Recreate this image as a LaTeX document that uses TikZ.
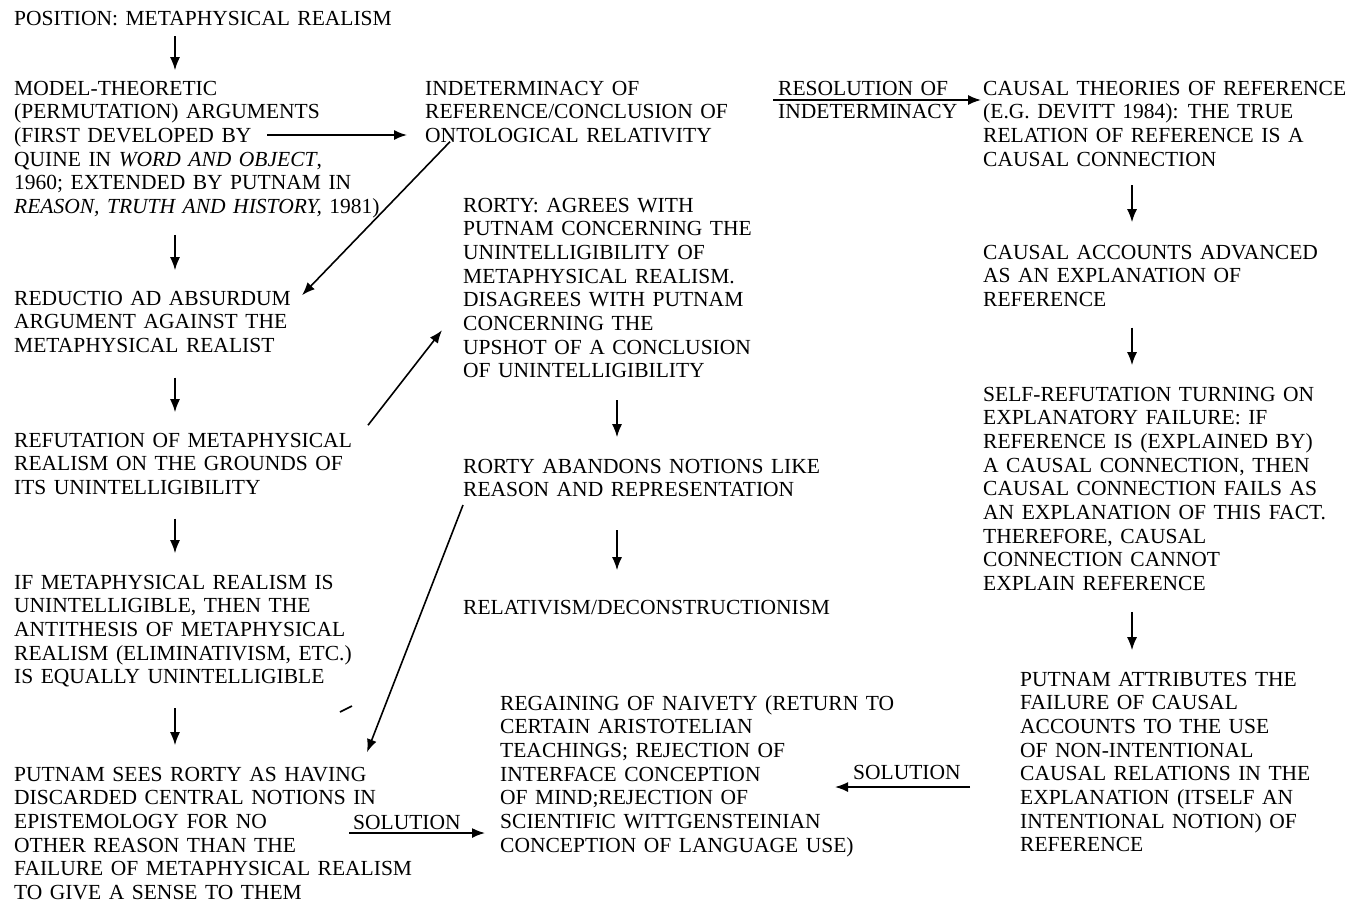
\documentclass[tikz,border=0pt]{standalone}
\usepackage{fontspec}
\setmainfont[WordSpace=1.4]{Liberation Serif}
\usetikzlibrary{arrows.meta,calc}
\newcommand\blk[1]{\begin{tabular}[t]{@{}l@{}}#1\end{tabular}}
\begin{document}
\begin{tikzpicture}[x=1pt,y=-1pt,
  txt/.style={anchor=base west,inner sep=0pt,font=\fontsize{21.5}{23.7}\selectfont},
  arr/.style={line width=1.6pt,-{Latex[length=13pt,width=10pt]}}]
\useasboundingbox[fill=white] (0,0) rectangle (1349,906);
\coordinate (colL) at (175,0);
\coordinate (colM) at (617,0);
\coordinate (colR) at (1132,0);
% left column
\node[txt] (pos) at (14,25) {\blk{POSITION: METAPHYSICAL REALISM}};
\node[txt] (model) at (14,95) {\blk{MODEL-THEORETIC\\(PERMUTATION) ARGUMENTS\\(FIRST DEVELOPED BY\\QUINE IN \textit{WORD AND OBJECT},\\1960; EXTENDED BY PUTNAM IN\\\textit{REASON, TRUTH AND HISTORY,} 1981)}};
\node[txt] (reductio) at (14,305) {\blk{REDUCTIO AD ABSURDUM\\ARGUMENT AGAINST THE\\METAPHYSICAL REALIST}};
\node[txt] (refut) at (14,447) {\blk{REFUTATION OF METAPHYSICAL\\REALISM ON THE GROUNDS OF\\ITS UNINTELLIGIBILITY}};
\node[txt] (ifmeta) at (14,589) {\blk{IF METAPHYSICAL REALISM IS\\UNINTELLIGIBLE, THEN THE\\ANTITHESIS OF METAPHYSICAL\\REALISM (ELIMINATIVISM, ETC.)\\IS EQUALLY UNINTELLIGIBLE}};
\node[txt] (putsees) at (14,781) {\blk{PUTNAM SEES RORTY AS HAVING\\DISCARDED CENTRAL NOTIONS IN\\EPISTEMOLOGY FOR NO\\OTHER REASON THAN THE\\FAILURE OF METAPHYSICAL REALISM\\TO GIVE A SENSE TO THEM}};
% middle column
\node[txt] (indet) at (425,95) {\blk{INDETERMINACY OF\\REFERENCE/CONCLUSION OF\\ONTOLOGICAL RELATIVITY}};
\node[txt] (rorty1) at (463,212) {\blk{RORTY: AGREES WITH\\PUTNAM CONCERNING THE\\UNINTELLIGIBILITY OF\\METAPHYSICAL REALISM.\\DISAGREES WITH PUTNAM\\CONCERNING THE\\UPSHOT OF A CONCLUSION\\OF UNINTELLIGIBILITY}};
\node[txt] (rorty2) at (463,473) {\blk{RORTY ABANDONS NOTIONS LIKE\\REASON AND REPRESENTATION}};
\node[txt] (relat) at (463,614) {\blk{RELATIVISM/DECONSTRUCTIONISM}};
\node[txt] (regain) at (500,710) {\blk{REGAINING OF NAIVETY (RETURN TO\\CERTAIN ARISTOTELIAN\\TEACHINGS; REJECTION OF\\INTERFACE CONCEPTION\\OF MIND;REJECTION OF\\SCIENTIFIC WITTGENSTEINIAN\\CONCEPTION OF LANGUAGE USE)}};
% right column
\node[txt] (causal1) at (983,95) {\blk{CAUSAL THEORIES OF REFERENCE\\(E.G. DEVITT 1984): THE TRUE\\RELATION OF REFERENCE IS A\\CAUSAL CONNECTION}};
\node[txt] (causal2) at (983,259) {\blk{CAUSAL ACCOUNTS ADVANCED\\AS AN EXPLANATION OF\\REFERENCE}};
\node[txt] (selfref) at (983,401) {\blk{SELF-REFUTATION TURNING ON\\EXPLANATORY FAILURE: IF\\REFERENCE IS (EXPLAINED BY)\\A CAUSAL CONNECTION, THEN\\CAUSAL CONNECTION FAILS AS\\AN EXPLANATION OF THIS FACT.\\THEREFORE, CAUSAL\\CONNECTION CANNOT\\EXPLAIN REFERENCE}};
\node[txt] (attr) at (1020,686) {\blk{PUTNAM ATTRIBUTES THE\\FAILURE OF CAUSAL\\ACCOUNTS TO THE USE\\OF NON-INTENTIONAL\\CAUSAL RELATIONS IN THE\\EXPLANATION (ITSELF AN\\INTENTIONAL NOTION) OF\\REFERENCE}};
% labels
\node[txt] (resol) at (778,95) {\blk{RESOLUTION OF\\INDETERMINACY}};
\node[txt] (sol1) at (353,829) {SOLUTION};
\node[txt] (sol2) at (853,779) {SOLUTION};
% vertical arrows
\draw[arr] ($(pos.south -| colL)+(0,4)$) -- ($(model.north -| colL)+(0,-8)$);
\draw[arr] ($(model.south -| colL)+(0,14)$) -- ($(reductio.north -| colL)+(0,-18)$);
\draw[arr] ($(reductio.south -| colL)+(0,18)$) -- ($(refut.north -| colL)+(0,-18)$);
\draw[arr] ($(refut.south -| colL)+(0,17)$) -- ($(ifmeta.north -| colL)+(0,-19)$);
\draw[arr] ($(ifmeta.south -| colL)+(0,17)$) -- ($(putsees.north -| colL)+(0,-19)$);
\draw[arr] ($(rorty1.south -| colM)+(0,15)$) -- ($(rorty2.north -| colM)+(0,-19)$);
\draw[arr] ($(rorty2.south -| colM)+(0,26)$) -- ($(relat.north -| colM)+(0,-27)$);
\draw[arr] ($(causal1.south -| colR)+(0,12)$) -- ($(causal2.north -| colR)+(0,-20)$);
\draw[arr] ($(causal2.south -| colR)+(0,14)$) -- ($(selfref.north -| colR)+(0,-19)$);
\draw[arr] ($(selfref.south -| colR)+(0,14)$) -- ($(attr.north -| colR)+(0,-19)$);
% horizontal arrows
\coordinate (mA) at (267,135);
\draw[arr,shorten >=18pt] (mA) -- (indet.west |- mA);
\coordinate (rs) at (773,100);
\draw[arr,shorten >=2pt] (rs) -- (causal1.west |- rs);
\coordinate (s1) at ($(sol1.base west)+(-4,4)$);
\draw[arr,shorten >=15pt] (s1) -- (regain.west |- s1);
\coordinate (s2) at ($(attr.west)+(-50,0)$);
\coordinate (s2s) at (s2 |- 0,787);
\coordinate (s2e) at (835,787);
\draw[arr] (s2s) -- (s2e);
% diagonals
\draw[arr] ($(indet.south west)+(25,-8)$) -- ($(reductio.north west)+(288,7)$);
\draw[arr] ($(refut.north west)+(354,-5)$) -- ($(rorty1.north west)+(-21,135)$);
\draw[arr] ($(rorty2.south west)+(0,1)$) -- ($(putsees.north west)+(353,-12)$);
% stray mark
\coordinate (st1) at (340,712);
\coordinate (st2) at (352,706);
\draw[line width=1.6pt] (st1) -- (st2);
\end{tikzpicture}
\end{document}
